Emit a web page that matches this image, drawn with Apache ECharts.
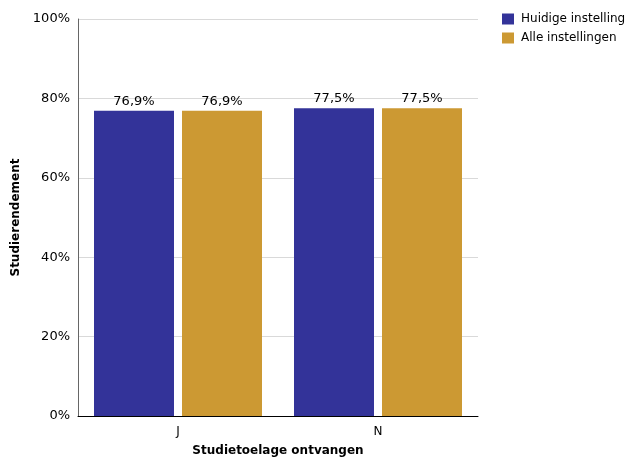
<!DOCTYPE html>
<html><head><meta charset="utf-8">
<script src="https://cdn.jsdelivr.net/npm/echarts@6/dist/echarts.min.js"></script>
<style>html,body{margin:0;padding:0;background:#fff}#c{width:629px;height:458px}</style>
</head><body><div id="c"></div>
<script>
const categories = ['J', 'N'];
const seriesNames = ['Huidige instelling', 'Alle instellingen'];
const huidige = [76.9, 77.5];
const alle = [76.9, 77.5];
const yTicks = [0, 20, 40, 60, 80, 100];
const xTitle = 'Studietoelage ontvangen';
const yTitle = 'Studierendement';

const font = 'DejaVu Sans, Verdana, sans-serif';
const chart = echarts.init(document.getElementById('c'), null, {renderer: 'canvas'});
const labelFmt = p => p.value.toFixed(1).replace('.', ',') + '%';
chart.setOption({
  animation: false,
  color: ['#333399', '#CC9933'],
  grid: {left: 78, right: 151, top: 19, bottom: 42, containLabel: false, outerBoundsMode: 'none'},
  legend: {
    orient: 'vertical', left: 502, top: 13, padding: 0, itemWidth: 12, itemHeight: 11, itemGap: 7,
    icon: 'rect', textStyle: {fontFamily: font, fontSize: 12, color: '#000', padding: [0,0,0,2]},
    data: seriesNames
  },
  xAxis: {
    type: 'category', data: categories,
    name: xTitle, nameLocation: 'middle', nameGap: 29,
    nameTextStyle: {fontFamily: font, fontSize: 12, fontWeight: 'bold', color: '#000'},
    axisLine: {lineStyle: {color: '#000', width: 1}},
    axisTick: {show: false},
    axisLabel: {fontFamily: font, fontSize: 12, color: '#000', margin: 10}
  },
  yAxis: {
    type: 'value', min: 0, max: 100, interval: 20,
    name: yTitle, nameLocation: 'middle', nameGap: 53,
    nameTextStyle: {fontFamily: font, fontSize: 12, fontWeight: 'bold', color: '#000'},
    axisLine: {show: true, lineStyle: {color: '#666', width: 1}},
    axisTick: {show: false},
    splitLine: {lineStyle: {color: '#d9d9d9', width: 1}},
    axisLabel: {fontFamily: font, fontSize: 13, color: '#000', margin: 8,
      formatter: v => yTicks.includes(v) ? v + '%' : ''}
  },
  series: [
    {name: seriesNames[0], type: 'bar', data: huidige, barWidth: 80, barGap: '10%',
     label: {show: true, position: 'top', distance: 3, fontFamily: font, fontSize: 13, color: '#000', formatter: labelFmt}},
    {name: seriesNames[1], type: 'bar', data: alle, barWidth: 80, barGap: '10%',
     label: {show: true, position: 'top', distance: 3, fontFamily: font, fontSize: 13, color: '#000', formatter: labelFmt}}
  ]
});
</script></body></html>
